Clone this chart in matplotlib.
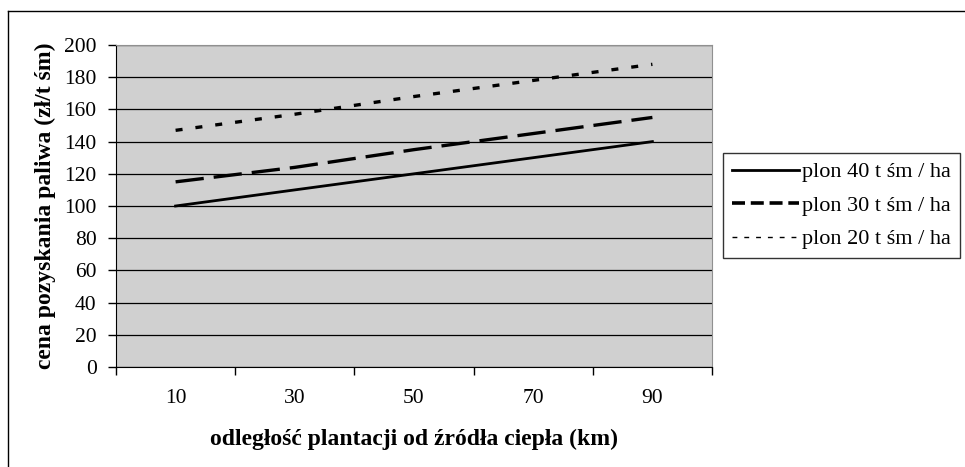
import matplotlib.pyplot as plt
import numpy as np
from matplotlib.lines import Line2D

plt.rcParams['font.family'] = ['Liberation Serif', 'DejaVu Serif']

# data
distance = ['10', '30', '50', '70', '90']
plon40 = [100, 110, 120, 130, 140]
plon30 = [115, 124, 135, 145, 155]
plon20 = [147, 157, 168, 178, 188]
labels = ['plon 40 t śm / ha', 'plon 30 t śm / ha', 'plon 20 t śm / ha']

fig = plt.figure(figsize=(9.65, 4.67), dpi=100)

# outer chart border (open on right and bottom, as in the original)
fig.add_artist(Line2D([8/965, 8/965], [0, 1 - 11/467], color='black', lw=1))
fig.add_artist(Line2D([8/965, 1], [1 - 11/467, 1 - 11/467], color='black', lw=1))

ax = fig.add_axes([116/965, 1 - 367/467, (712 - 116)/965, (367 - 45)/467])
ax.set_facecolor('#d0d0d0')

x = np.arange(len(distance))
ax.plot(x, plon40, color='black', lw=2.0, label=labels[0], zorder=3)
ax.plot(x, plon30, color='black', lw=2.4, linestyle=(0, (8.5, 3)), label=labels[1], zorder=3)
ax.plot(x, plon20, color='black', lw=2.4, linestyle=(0, (2.1, 3.9)), label=labels[2], zorder=3)

ax.set_ylim(0, 200)
ax.set_yticks(np.arange(0, 201, 20))
ax.yaxis.grid(True, color='black', lw=0.9)
ax.set_axisbelow(True)

ax.set_xlim(-0.5, len(distance) - 0.5)
ax.set_xticks(np.arange(-0.5, len(distance), 1.0))
ax.set_xticklabels([])
ax.set_xticks(x, minor=True)
ax.set_xticklabels(distance, minor=True)
ax.tick_params(axis='x', which='major', direction='out', length=6, width=1)
ax.tick_params(axis='x', which='minor', length=0, pad=16, labelsize=15.5)
ax.tick_params(axis='y', direction='out', length=6, width=1, labelsize=15.5, pad=8)

for s in ['top', 'right']:
    ax.spines[s].set_color('#909090')
for s in ['left', 'bottom']:
    ax.spines[s].set_color('black')

ax.set_ylabel('cena pozyskania paliwa (zł/t śm)', fontsize=17, fontweight='bold', labelpad=6)
ax.set_xlabel('odległość plantacji od źródła ciepła (km)', fontsize=17, fontweight='bold', labelpad=15)

# legend handles
handles = [Line2D([], [], color='black', lw=2.0),
           Line2D([], [], color='black', lw=2.6, linestyle=(0, (3.6, 1.6))),
           Line2D([], [], color='black', lw=1.0, linestyle=(0, (3.5, 5)))]
leg = fig.legend(handles, labels, loc='upper left', bbox_to_anchor=(723/965, 1 - 153/467),
                 frameon=True, fancybox=False, edgecolor='black', fontsize=16,
                 handlelength=3.0, handletextpad=0.15, labelspacing=0.58,
                 borderpad=0.4, borderaxespad=0)
leg.get_frame().set_linewidth(1.0)

fig.savefig('out.png', dpi=100)
